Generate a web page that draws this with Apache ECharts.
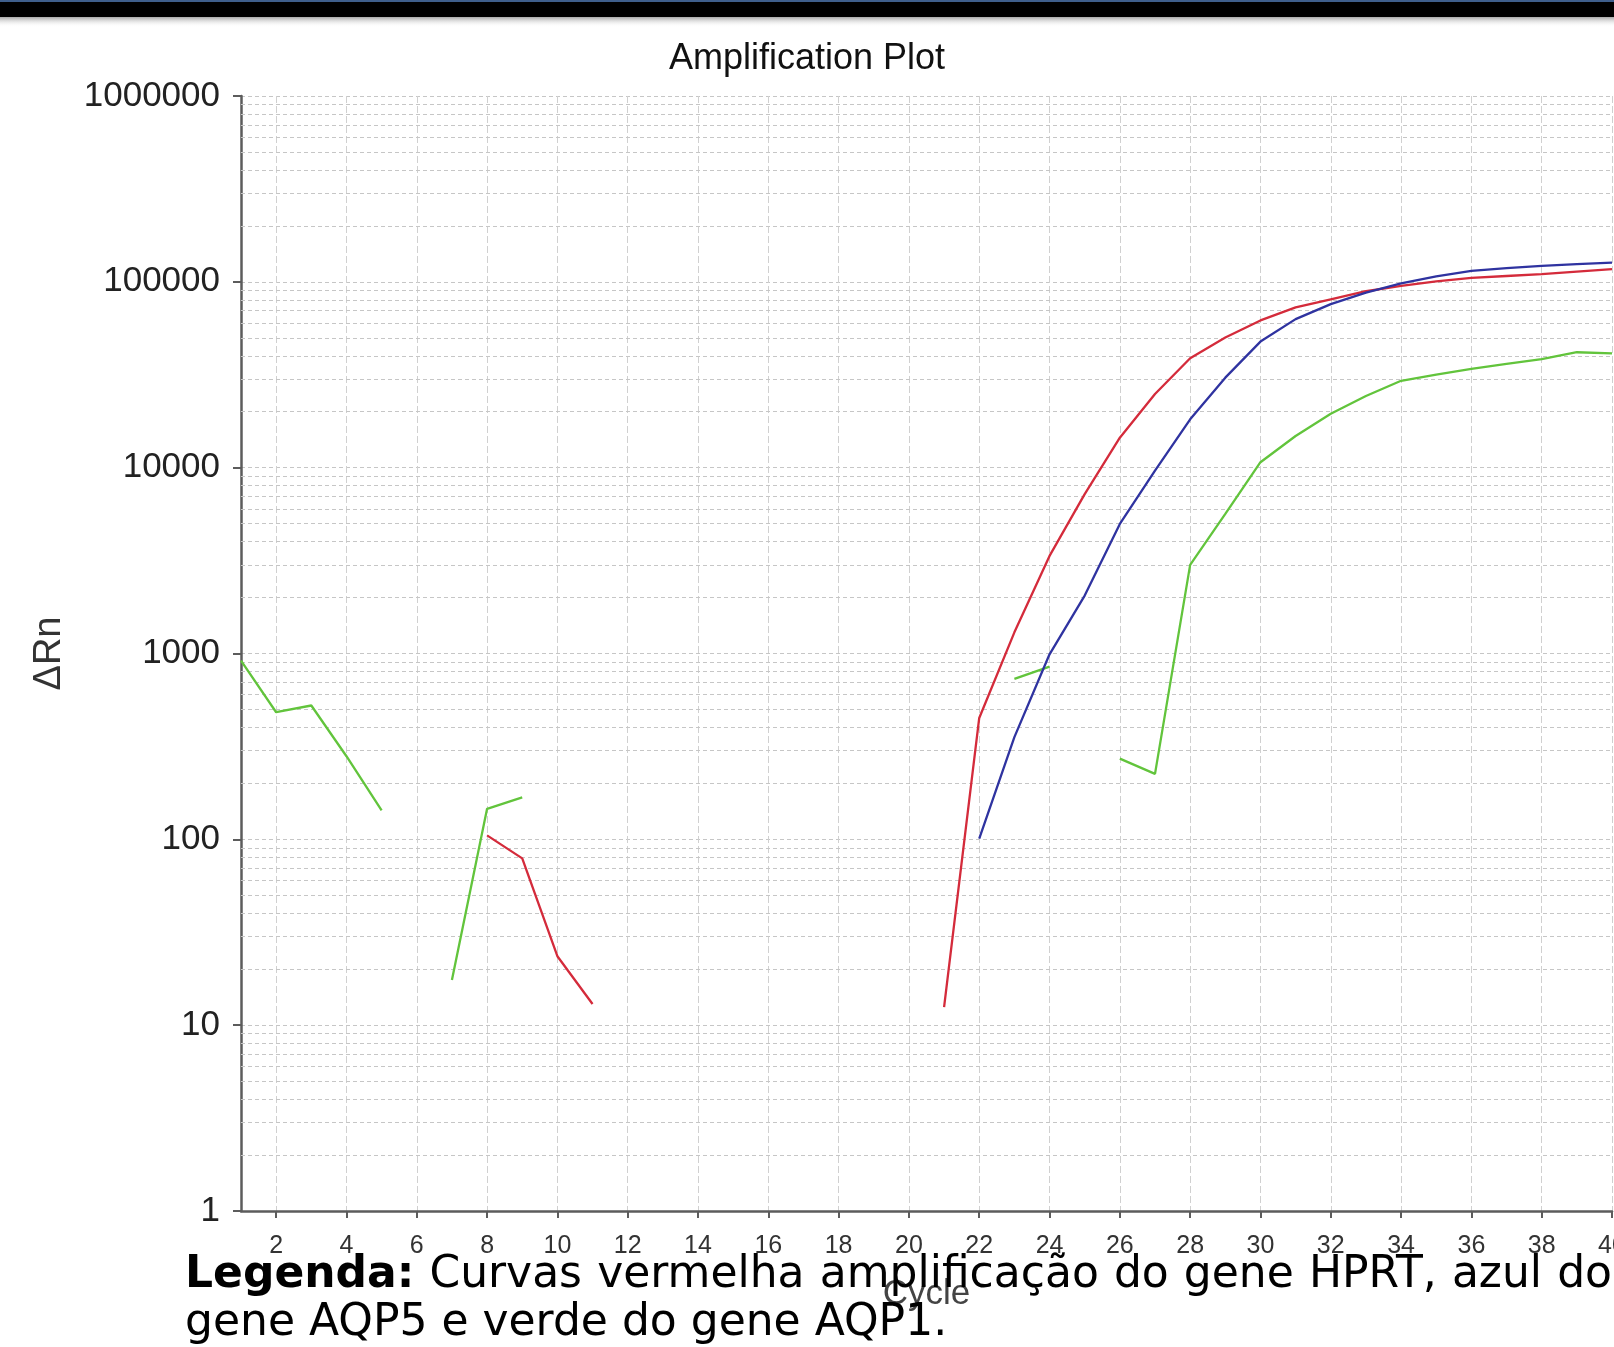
<!DOCTYPE html>
<html>
<head>
<meta charset="utf-8">
<script src="https://cdn.jsdelivr.net/npm/echarts@6/dist/echarts.min.js"></script>
<style>
html,body{margin:0;padding:0;background:#ffffff;}
#chart{width:1614px;height:1347px;}
</style>
</head>
<body>
<div id="chart"></div>
<script>
// ---------- data ----------
const cycles = [1,2,3,4,5,6,7,8,9,10,11,12,13,14,15,16,17,18,19,20,21,22,23,24,25,26,27,28,29,30,31,32,33,34,35,36,37,38,39,40];
// Red curve: HPRT
const hprt = [null,null,null,null,null,null,null,105,79,23.5,13,null,null,null,null,null,null,null,null,null,
  12.5,450,1300,3350,7200,14500,24900,38800,50200,62000,72800,80500,89000,95000,100500,105000,107500,110000,113500,117000];
// Blue curve: AQP5
const aqp5 = [null,null,null,null,null,null,null,null,null,null,null,null,null,null,null,null,null,null,null,null,
  null,101,355,990,2050,4980,9640,18200,30500,47700,63000,75900,87500,98000,107000,114600,118500,121900,124500,127000];
// Green curve: AQP1
const aqp1 = [915,483,525,280,143,null,17.5,146,168,null,null,null,null,null,null,null,null,null,null,null,
  null,null,730,850,null,272,225,3000,5640,10700,14800,19500,24300,29350,31700,34000,36200,38400,41800,41200];

const xTickValues = [2,4,6,8,10,12,14,16,18,20,22,24,26,28,30,32,34,36,38,40];
const yDecades = [1,10,100,1000,10000,100000,1000000];
const yMinorMultipliers = [2,3,4,5,6,7,8,9];

const titleText = 'Amplification Plot';
const xName = 'Cycle';
const yName = '\u0394Rn';
const captionLine1 = ['Legenda:', 'Curvas', 'vermelha', 'amplificação', 'do', 'gene', 'HPRT,', 'azul', 'do'];
const captionLine2 = 'gene AQP5 e verde do gene AQP1.';

// ---------- build ----------
const toPairs = arr => cycles.map((c, i) => [c, arr[i] == null ? '-' : arr[i]]);
const yMinorLines = [];
yDecades.slice(0, -1).forEach(d => yMinorMultipliers.forEach(m => yMinorLines.push(m * d)));

const chart = echarts.init(document.getElementById('chart'), null, {renderer: 'canvas'});

// justified first caption line
const capFont = '"DejaVu Sans", Verdana, sans-serif';
const capSize = 44;
const capLeft = 185, capRight = 1612;
const mctx = document.createElement('canvas').getContext('2d');
const widths = captionLine1.map((w, i) => {
  mctx.font = (i === 0 ? 'bold ' : '') + capSize + 'px ' + capFont;
  return mctx.measureText(w).width;
});
const totalW = widths.reduce((a, b) => a + b, 0);
const gap = (capRight - capLeft - totalW) / (captionLine1.length - 1);
const captionEls = [];
let cx = capLeft;
captionLine1.forEach((w, i) => {
  captionEls.push({
    type: 'text', x: cx, y: 1276, z: 100,
    style: {text: w, font: (i === 0 ? 'bold ' : '') + capSize + 'px ' + capFont, fill: '#000', verticalAlign: 'middle', align: 'left'}
  });
  cx += widths[i] + gap;
});
captionEls.push({
  type: 'text', x: capLeft, y: 1324, z: 100,
  style: {text: captionLine2, font: capSize + 'px ' + capFont, fill: '#000', verticalAlign: 'middle', align: 'left'}
});

const gridLineStyle = {color: '#c6c6c6', width: 1, type: [4, 3]};
const axisColor = '#5c5c5c';
const chartFont = '"Liberation Sans", Arial, sans-serif';

const option = {
  animation: false,
  backgroundColor: '#ffffff',
  title: {
    text: titleText, left: 'center', top: 36,
    textStyle: {fontFamily: chartFont, fontSize: 36, fontWeight: 'normal', color: '#111'}
  },
  grid: {left: 241, right: 2, top: 96, bottom: 136, outerBoundsMode: 'none', containLabel: false},
  xAxis: {
    type: 'value', min: 1, max: 40,
    name: xName, nameLocation: 'middle', nameGap: 66,
    nameTextStyle: {fontFamily: chartFont, fontSize: 35, color: '#444'},
    axisLine: {show: true, onZero: false, lineStyle: {color: axisColor, width: 2.5}},
    axisTick: {show: true, length: 7, customValues: xTickValues, lineStyle: {color: axisColor, width: 2}},
    axisLabel: {customValues: xTickValues, fontFamily: chartFont, fontSize: 25, color: '#333', margin: 23},
    splitLine: {show: true, lineStyle: {color: '#d0d0d0', width: 1, type: [7, 3]}}
  },
  yAxis: {
    type: 'log', logBase: 10, min: 1, max: 1000000,
    name: yName, nameLocation: 'middle', nameGap: 172, nameRotate: 90,
    nameTextStyle: {fontFamily: chartFont, fontSize: 38, color: '#333'},
    axisLine: {show: true, lineStyle: {color: axisColor, width: 2.5}},
    axisTick: {show: true, length: 8, lineStyle: {color: axisColor, width: 2}},
    axisLabel: {fontFamily: chartFont, fontSize: 35, color: '#222', margin: 21,
      formatter: v => String(Math.round(v))},
    splitLine: {show: true, lineStyle: gridLineStyle}
  },
  graphic: [
    {type: 'rect', shape: {x: 0, y: 0, width: 1614, height: 17}, style: {fill: '#000000'}, z: 50},
    {type: 'rect', shape: {x: 0, y: 0, width: 1614, height: 2}, style: {fill: '#3f5f8c'}, z: 51},
    {type: 'rect', shape: {x: 0, y: 17, width: 1614, height: 10}, z: 50,
      style: {fill: new echarts.graphic.LinearGradient(0, 0, 0, 1, [{offset: 0, color: '#a8a8a8'}, {offset: 1, color: 'rgba(255,255,255,0)'}])}},
    ...captionEls
  ],
  series: [
    {
      name: 'grid', type: 'line', data: [], silent: true, z: 1,
      markLine: {
        silent: true, symbol: ['none', 'none'], label: {show: false}, z: 1, animation: false,
        lineStyle: gridLineStyle,
        emphasis: {disabled: true},
        data: yMinorLines.map(v => ({yAxis: v}))
      }
    },
    {name: 'AQP1', type: 'line', data: toPairs(aqp1), showSymbol: false, connectNulls: false, z: 3,
      lineStyle: {color: '#62c43c', width: 2.3}, itemStyle: {color: '#62c43c'}},
    {name: 'HPRT', type: 'line', data: toPairs(hprt), showSymbol: false, connectNulls: false, z: 4,
      lineStyle: {color: '#d42b3b', width: 2.3}, itemStyle: {color: '#d42b3b'}},
    {name: 'AQP5', type: 'line', data: toPairs(aqp5), showSymbol: false, connectNulls: false, z: 5,
      lineStyle: {color: '#2f33a0', width: 2.3}, itemStyle: {color: '#2f33a0'}}
  ]
};
chart.setOption(option);
</script>
</body>
</html>
